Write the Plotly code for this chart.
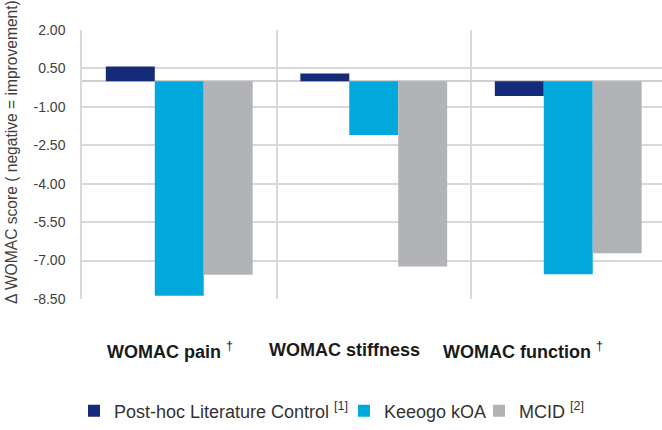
import plotly.graph_objects as go

categories = ["WOMAC pain", "WOMAC stiffness", "WOMAC function"]
category_labels = ["<b>WOMAC pain</b> <sup>†</sup>", "<b>WOMAC stiffness</b>", "<b>WOMAC function</b> <sup>†</sup>"]
control_values = [0.58, 0.30, -0.58]
keeogo_values = [-8.37, -2.10, -7.53]
mcid_values = [-7.55, -7.23, -6.71]
series_names = ["Post-hoc Literature Control <sup>[1]</sup>", "Keeogo kOA", "MCID <sup>[2]</sup>"]
series_colors = ["#152a78", "#00a8dc", "#b2b3b7"]
y_tick_vals = [2.0, 0.5, -1.0, -2.5, -4.0, -5.5, -7.0, -8.5]
y_tick_text = ["2.00", "0.50", "-1.00", "-2.50", "-4.00", "-5.50", "-7.00", "-8.50"]
y_title = "Δ WOMAC score ( negative = improvement)"

FONT = "Liberation Sans, Arial, sans-serif"
x_pos = list(range(len(categories)))
legend_ids = ["legend", "legend2", "legend3"]
legend_x_px = [74, 344, 479]

fig = go.Figure()
for name, vals, col, lg in zip(series_names, [control_values, keeogo_values, mcid_values], series_colors, legend_ids):
    fig.add_trace(go.Bar(x=x_pos, y=vals, name=name, legend=lg,
                         marker=dict(color=col, line=dict(width=0))))

label_x = [-0.05, 0.852, 1.767]
for lx, txt in zip(label_x, category_labels):
    fig.add_annotation(x=lx, xref="x", y=-0.19, yref="paper", text=txt, showarrow=False,
                       font=dict(family=FONT, size=18, color="#1a1a1a"), xanchor="center", yanchor="middle")

fig.add_annotation(x=-(82 - 11) / 580, xref="paper", y=(299 - 152) / 269, yref="paper", text=y_title,
                   textangle=-90, showarrow=False, font=dict(family=FONT, size=15.6, color="#404040"),
                   xanchor="center", yanchor="middle")

legend_common = dict(orientation="h", xref="container", yref="container", xanchor="left",
                     yanchor="middle", y=1 - 411 / 430, bgcolor="rgba(0,0,0,0)",
                     font=dict(family=FONT, size=18, color="#333333"), itemclick=False)

fig.update_layout(
    width=662, height=430,
    margin=dict(l=82, r=0, t=30, b=131, autoexpand=False),
    paper_bgcolor="white", plot_bgcolor="white",
    barmode="group", bargap=0.245, bargroupgap=0,
    font=dict(family=FONT, color="#333333"),
    showlegend=True,
    legend=dict(x=legend_x_px[0] / 662, **legend_common),
    legend2=dict(x=legend_x_px[1] / 662, **legend_common),
    legend3=dict(x=legend_x_px[2] / 662, **legend_common),
    xaxis=dict(range=[-0.5, 2.482], tickvals=x_pos, showticklabels=False, showgrid=False,
               zeroline=False, showline=False,
               minor=dict(tick0=-0.5, dtick=1, showgrid=True, gridcolor="#d9d9d9", gridwidth=1.5)),
    yaxis=dict(range=[-8.5, 2.0], tickvals=y_tick_vals, ticktext=y_tick_text,
               showgrid=True, gridcolor="#d9d9d9", gridwidth=1.5,
               zeroline=True, zerolinecolor="#d0d0d0", zerolinewidth=1.5,
               showline=True, linecolor="#d9d9d9", linewidth=1.5,
               ticklabelstandoff=12,
               tickfont=dict(family=FONT, size=14, color="#404040")),
)

fig.write_html("out.html", config={"displayModeBar": False},
               post_script="document.body.style.margin='0';")
